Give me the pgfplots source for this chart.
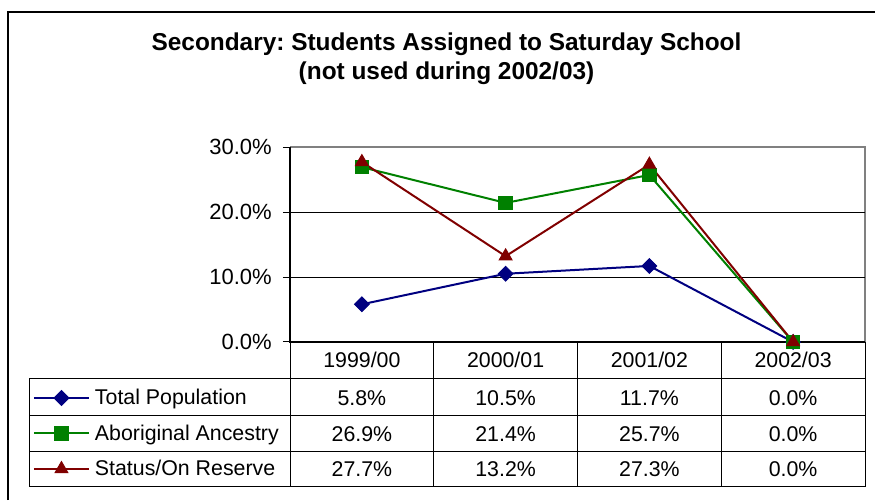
\documentclass[border=0pt]{standalone}
\usepackage{fontspec}
\setmainfont{Liberation Sans}
\usepackage{pgfplots}
\pgfplotsset{compat=1.18}
\definecolor{navy}{RGB}{0,0,128}
\definecolor{grn}{RGB}{0,128,0}
\definecolor{dred}{RGB}{128,0,0}
\definecolor{frame}{RGB}{128,128,128}
\newcommand\cell[3]{\node[anchor=base, inner sep=0pt] at (#1,#2) {#3};}
\frenchspacing

\begin{document}
\begin{tikzpicture}
\path[use as bounding box] (0,0) rectangle (656.25pt,375pt);
% everything outside the axis in pixel units of the 875x500 reference
\begin{scope}[x=0.75pt, y=-0.75pt, yshift=375pt,
  font=\fontsize{16}{19}\selectfont]
  \draw[line width=1.2pt] (8,500) -- (8,12) -- (880,12);
  \draw[frame, line width=1.5pt] (290,147) -- (865,147) -- (865,342);
  % data table
  \draw[line width=0.75pt]
    (29,379) -- (865,379) (29,416) -- (865,416)
    (29,452) -- (865,452) (29,487) -- (865,487)
    (29,379) -- (29,487) (290,342) -- (290,487)
    (433.75,342) -- (433.75,487) (577.5,342) -- (577.5,487)
    (721.25,342) -- (721.25,487) (865,342) -- (865,487);
  \draw[line width=1.2pt] (290,147) -- (290,342) -- (865,342);
  \node[anchor=base, font=\fontsize{18.3}{22}\selectfont\bfseries]
    at (446.5,51) {Secondary: Students Assigned to Saturday School};
  \node[anchor=base, font=\fontsize{18.3}{22}\selectfont\bfseries]
    at (446.5,80) {(not used during 2002/03)};
  \cell{361.9}{368}{1999/00} \cell{505.6}{368}{2000/01}
  \cell{649.4}{368}{2001/02} \cell{793.1}{368}{2002/03}
  \cell{361.9}{405.5}{5.8\%}  \cell{505.6}{405.5}{10.5\%}
  \cell{649.4}{405.5}{11.7\%} \cell{793.1}{405.5}{0.0\%}
  \cell{361.9}{441.5}{26.9\%} \cell{505.6}{441.5}{21.4\%}
  \cell{649.4}{441.5}{25.7\%} \cell{793.1}{441.5}{0.0\%}
  \cell{361.9}{477}{27.7\%}   \cell{505.6}{477}{13.2\%}
  \cell{649.4}{477}{27.3\%}   \cell{793.1}{477}{0.0\%}
\end{scope}

\begin{axis}[
    at={(217.5pt,118.5pt)}, anchor=south west,
    scale only axis,
    width=431.25pt, height=146.25pt,
    xmin=0, xmax=4, ymin=0, ymax=30,
    clip=false,
    axis line style={draw=none},
    xtick=\empty,
    ytick={10,20}, yticklabels={10.0\%,20.0\%},
    extra y ticks={0,30}, extra y tick labels={0.0\%,30.0\%},
    extra y tick style={grid=none},
    ymajorgrids, grid style={black, line width=0.75pt},
    ytick pos=left, tick align=outside, major tick length=5.25pt,
    tick style={black, line width=0.75pt},
    yticklabel style={font=\fontsize{16.5}{19}\selectfont, anchor=east,
      inner sep=0pt, xshift=-8.25pt},
    legend cell align=left,
    legend style={at={(-0.447,-0.4692)}, anchor=west, draw=none, fill=none,
      inner sep=0pt, outer sep=0pt, row sep=13.1pt, column sep=3.75pt,
      font=\fontsize{16}{19}\selectfont,
      nodes={inner sep=0pt, outer sep=0pt}},
    legend image code/.code={
      \draw[mark repeat=2, mark phase=2, #1]
        plot coordinates {(0pt,0pt) (20.625pt,0pt) (41.25pt,0pt)};
      \path (0pt,-6pt) (0pt,6pt);
    },
  ]
  \addplot[navy, line width=1.5pt, mark=square*, mark size=3.9pt,
    mark options={rotate=45, line width=0.75pt}]
    coordinates {(0.5,5.8) (1.5,10.5) (2.5,11.7) (3.5,0.0)};
  \addplot[grn, line width=1.5pt, mark=square*, mark size=5pt,
    mark options={line width=0.75pt}]
    coordinates {(0.5,26.9) (1.5,21.4) (2.5,25.7) (3.5,0.0)};
  \addplot[dred, line width=1.5pt, mark=triangle*, mark size=5.5pt,
    mark options={line width=0.75pt}]
    coordinates {(0.5,27.7) (1.5,13.2) (2.5,27.3) (3.5,0.0)};
  \legend{Total Population, Aboriginal Ancestry, Status/On Reserve}
\end{axis}
\end{tikzpicture}
\end{document}
